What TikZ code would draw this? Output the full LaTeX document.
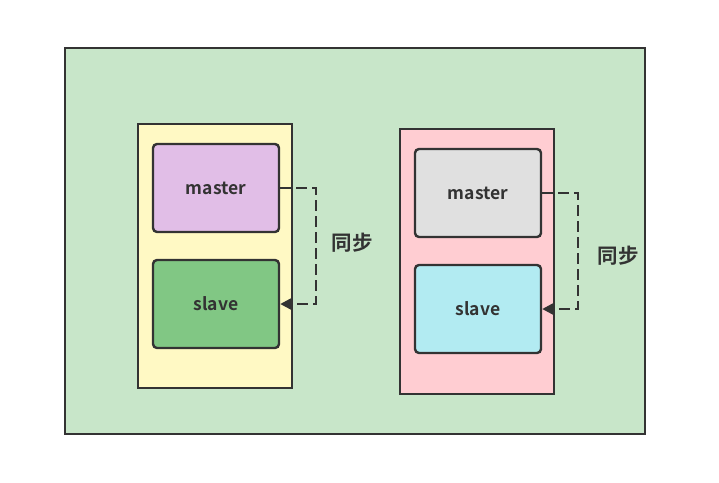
\documentclass[tikz,border=0pt]{standalone}
\usepackage{fontspec}
\setmainfont{Noto Sans CJK SC}[BoldFont={Noto Sans CJK SC Bold}]
\usetikzlibrary{arrows.meta}
\definecolor{ink}{HTML}{333333}
\definecolor{outerg}{HTML}{C8E6C9}
\definecolor{yel}{HTML}{FFF9C4}
\definecolor{pnk}{HTML}{FFCDD2}
\definecolor{pur}{HTML}{E1BEE7}
\definecolor{grn}{HTML}{81C784}
\definecolor{gry}{HTML}{E0E0E0}
\definecolor{cyn}{HTML}{B2EBF2}
\tikzset{
  frame/.style={draw=ink, line width=2.4pt, anchor=north west, inner sep=0pt},
  dbox/.style={draw=ink, line width=2.4pt, rounded corners=4pt, minimum width=126pt, minimum height=88pt, inner sep=0pt, font=\fontsize{17.5}{19}\selectfont\bfseries, text=ink},
  sync/.style={draw=ink, line width=2.4pt, dash pattern=on 11pt off 5pt, -{Triangle[length=11pt,width=11pt]}},
  lbl/.style={font=\fontsize{20.5}{22}\selectfont\bfseries, text=ink}
}
\begin{document}
\begin{tikzpicture}[x=1pt,y=-1pt]
\useasboundingbox[fill=white] (0,0) rectangle (719,482);
\node[frame, fill=outerg, minimum width=580pt, minimum height=386pt] (outer) at (64,47) {};
\node[frame, fill=yel, minimum width=154pt, minimum height=264pt] (left) at (137,123) {};
\node[frame, fill=pnk, minimum width=154pt, minimum height=265pt] (right) at (399,128) {};
\node[dbox, fill=pur] (m1) at (216,188) {master};
\node[dbox, fill=grn] (s1) at (216,304) {slave};
\node[dbox, fill=gry] (m2) at (478,193) {master};
\node[dbox, fill=cyn] (s2) at (478,309) {slave};
\coordinate (c1) at (316,188);
\coordinate (c2) at (578,193);
\draw[sync] (m1.east) -- (c1) |- (s1.east);
\draw[sync] (m2.east) -- (c2) |- (s2.east);
\node[lbl] (t1) at (352,243) {同步};
\node[lbl] (t2) at (618,256) {同步};
\end{tikzpicture}
\end{document}
